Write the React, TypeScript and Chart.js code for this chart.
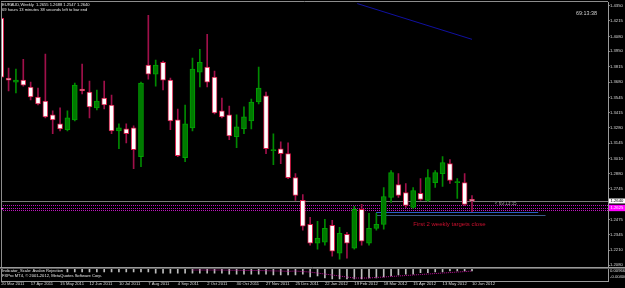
import React, { useEffect, useRef } from 'react';
import { Chart, registerables } from 'chart.js';

Chart.register(...registerables);

// ---------------- DATA ----------------
const dateTickLabels = [
  '20 Mar 2011', '17 Apr 2011', '15 May 2011', '12 Jun 2011', '10 Jul 2011', '7 Aug 2011',
  '4 Sep 2011', '2 Oct 2011', '30 Oct 2011', '27 Nov 2011', '25 Dec 2011', '22 Jan 2012',
  '19 Feb 2012', '18 Mar 2012', '15 Apr 2012', '13 May 2012', '10 Jun 2012',
];

const opens = [
  1.4237, 1.3715, 1.3680, 1.3697, 1.3637, 1.3550, 1.3515, 1.3393, 1.3315, 1.3263,
  1.3350, 1.3619, 1.3593, 1.3454, 1.3541, 1.3480, 1.3254, 1.3271, 1.3280, 1.3028,
  1.3828, 1.3750, 1.3854, 1.3697, 1.3350, 1.3019, 1.3280, 1.3767, 1.3811, 1.3724,
  1.3428, 1.3393, 1.3202, 1.3271, 1.3341, 1.3506, 1.3559, 1.3080, 1.3097, 1.3054,
  1.2845, 1.2645, 1.2436, 1.2271, 1.2279, 1.2427, 1.2184, 1.2349, 1.2227, 1.2566,
  1.2271, 1.2401, 1.2436, 1.2671, 1.2784, 1.2714, 1.2584, 1.2706, 1.2645, 1.2801,
  1.2880, 1.2967, 1.2801, 1.2801, 1.2655,
];
const highs = [
  1.4254, 1.3802, 1.3793, 1.3880, 1.3680, 1.3628, 1.3924, 1.3428, 1.3454, 1.3428,
  1.3671, 1.3837, 1.3689, 1.3611, 1.3689, 1.3567, 1.3315, 1.3315, 1.3297, 1.3680,
  1.4263, 1.3872, 1.3863, 1.3715, 1.3445, 1.3480, 1.3889, 1.3967, 1.4098, 1.3776,
  1.3541, 1.3471, 1.3393, 1.3463, 1.3532, 1.3811, 1.3593, 1.3228, 1.3158, 1.3149,
  1.2880, 1.2697, 1.2497, 1.2462, 1.2480, 1.2471, 1.2410, 1.2366, 1.2593, 1.2610,
  1.2532, 1.2532, 1.2758, 1.2906, 1.2880, 1.2793, 1.2758, 1.2836, 1.2914, 1.2906,
  1.3028, 1.3002, 1.2836, 1.2880, 1.2688,
];
const lows = [
  1.3706, 1.3602, 1.3585, 1.3645, 1.3524, 1.3480, 1.3367, 1.3228, 1.3254, 1.3254,
  1.3341, 1.3576, 1.3367, 1.3436, 1.3445, 1.3228, 1.3097, 1.3149, 1.2923, 1.2941,
  1.3706, 1.3645, 1.3611, 1.3263, 1.3028, 1.2984, 1.3254, 1.3637, 1.3637, 1.3402,
  1.3367, 1.3176, 1.3106, 1.3228, 1.3271, 1.3489, 1.3054, 1.2958, 1.2967, 1.2836,
  1.2645, 1.2384, 1.2253, 1.2218, 1.2253, 1.2158, 1.2132, 1.2140, 1.2218, 1.2253,
  1.2253, 1.2384, 1.2393, 1.2627, 1.2671, 1.2584, 1.2575, 1.2645, 1.2636, 1.2758,
  1.2767, 1.2793, 1.2662, 1.2601, 1.2547,
];
const closes = [
  1.3723, 1.3697, 1.3697, 1.3654, 1.3550, 1.3489, 1.3376, 1.3350, 1.3271, 1.3367,
  1.3654, 1.3602, 1.3463, 1.3515, 1.3480, 1.3254, 1.3280, 1.3228, 1.3089, 1.3671,
  1.3750, 1.3828, 1.3697, 1.3341, 1.3036, 1.3315, 1.3793, 1.3854, 1.3680, 1.3410,
  1.3376, 1.3210, 1.3289, 1.3376, 1.3506, 1.3628, 1.3097, 1.3089, 1.3054, 1.2845,
  1.2688, 1.2419, 1.2271, 1.2314, 1.2401, 1.2201, 1.2358, 1.2271, 1.2566, 1.2288,
  1.2401, 1.2436, 1.2679, 1.2888, 1.2688, 1.2601, 1.2732, 1.2653, 1.2845, 1.2888,
  1.2975, 1.2819, 1.2810, 1.2610, 1.2640,
];

const priceTickLabels = [
  '1.4350', '1.4215', '1.4080', '1.3950', '1.3815', '1.3680', '1.3545', '1.3415', '1.3280',
  '1.3145', '1.3010', '1.2880', '1.2745', '1.2475', '1.2345', '1.2210', '1.2080',
];

// indicator sub-window (histogram hanging from the window top, and a dotted signal line)
const histValues = [
  null, null, null, null, null, null, null, null, null, 0.0074,
  0.0074, 0.0074, 0.0074, 0.0074, 0.0074, 0.0074, 0.0074, 0.0074, 0.0074, 0.0074,
  0.0074, 0.0051, 0.0051, 0.0051, 0.0051, 0.0051, 0.0051, 0.0051, 0.0051, 0.0051,
  0.0051, 0.0028, 0.0028, 0.0028, 0.0028, 0.0028, 0.0028, 0.0006, 0.0006, 0.0006,
  0.0006, 0.0028, -0.0040, -0.0017, -0.0063, -0.0086, -0.0086, -0.0086, -0.0086, -0.0086,
  -0.0063, -0.0063, -0.0040, -0.0017, 0.0006, 0.0028, 0.0028, 0.0062, 0.0062, 0.0074,
  0.0074, 0.0097, 0.0097, 0.0097, 0.0097,
];
const signalValues = [
  null, null, null, null, null, null, null, null, null, null,
  null, null, null, null, null, null, null, null, null, null,
  null, null, null, null, null, null, 0.0120, 0.0120, 0.0120, 0.0120,
  0.0120, 0.0115, 0.0115, 0.0110, 0.0110, 0.0108, 0.0105, 0.0100, 0.0097, 0.0090,
  0.0097, 0.0085, 0.0074, 0.0051, 0.0028, 0.0006, -0.0017, -0.0040, -0.0063, -0.0063,
  -0.0063, -0.0050, -0.0040, -0.0028, -0.0017, -0.0006, 0.0006, 0.0017, 0.0028, 0.0040,
  0.0051, 0.0062, 0.0074, 0.0085, 0.0097,
];
const histBase = 0.0165;
const indicatorAxisLabels = ['0.00966', '-0.00400'];
const indicatorAxisValues = [0.00966, -0.004];

const titleText = 'EURAUD,Weekly  1.2655 1.2688 1.2547 1.2640';
const timerText = '69 hours 13 minutes 38 seconds left to bar end';
const clockText = '69:13:38';
const bidClockText = '< 69:13:35';
const noteText = 'First 2 weekly targets close';
const indicatorName = 'Indicator_Scale: Avalon Rejection';
const copyrightText = 'FXPro MT4, \u00a9 2001-2012, MetaQuotes Software Corp.';

const bidPrice = 1.2640;
const bidLabel = '1.2640';
const pinkPrice = 1.2579;
const pinkLabel = '1.2625';
const magentaLevels = [1.2601, 1.2579, 1.2558];
const targetLevels = [1.2540, 1.2514];
const targetStart = 51;
const targetEnds = [73, 74];
const trendStart = [48.4, 1.4367];
const trendEnd = [64.0, 1.4054];
const noteAt = [56.0, 1.2436];
const bidClockAt = [67.1, 1.2619];

// axis ranges
const X_MIN = -0.03;
const X_MAX = 82.49;
const Y_MAX = 1.43761;
const Y_MIN = 1.19401;
const Y2_MAX = 0.62445;
const Y2_MIN = -0.01311;

const FONT = '"Liberation Sans", Arial, sans-serif';

export default function App() {
  const ref = useRef<HTMLCanvasElement | null>(null);

  useEffect(() => {
    document.body.style.margin = '0';
    document.body.style.background = '#000';
    const canvas = ref.current;
    if (!canvas) return;

    const idx = opens.map((_, i) => i);
    const bull = idx.map((i) => closes[i] >= opens[i]);

    const bodies = idx.map((i) => ({ x: i, y: [opens[i], closes[i]] }));
    const wicks = idx.map((i) => ({ x: i, y: [lows[i], highs[i]] }));
    const hist = idx
      .filter((i) => histValues[i] !== null)
      .map((i) => ({ x: i, y: [histBase, histValues[i] as number] }));
    const signal = idx
      .filter((i) => signalValues[i] !== null)
      .map((i) => ({ x: i, y: signalValues[i] as number }));

    const overlay = {
      id: 'overlay',
      beforeDraw(chart: any) {
        const c = chart.ctx;
        c.save();
        c.fillStyle = '#000000';
        c.fillRect(0, 0, chart.width, chart.height);
        c.restore();
      },
      beforeDatasetsDraw(chart: any) {
        const c = chart.ctx;
        const a = chart.chartArea;
        const sx = (v: number) => chart.scales.x.getPixelForValue(v);
        const sy = (v: number) => chart.scales.y.getPixelForValue(v);
        c.save();
        c.beginPath();
        c.rect(a.left, a.top, a.right - a.left, a.bottom - a.top);
        c.clip();
        // magenta dotted levels
        c.strokeStyle = '#c014c0';
        c.lineWidth = 1;
        c.setLineDash([1, 1]);
        magentaLevels.forEach((p) => {
          const y = Math.round(sy(p)) + 0.5;
          c.beginPath();
          c.moveTo(a.left, y);
          c.lineTo(a.right, y);
          c.stroke();
        });
        c.setLineDash([]);
        // bid line
        c.strokeStyle = '#7a7a7a';
        const by = Math.round(sy(bidPrice)) + 0.5;
        c.beginPath();
        c.moveTo(a.left, by);
        c.lineTo(a.right, by);
        c.stroke();
        // target lines
        const tcol = ['#2a5cc8', '#3a5a84'];
        targetLevels.forEach((p, k) => {
          const y = Math.round(sy(p)) + 0.5;
          c.strokeStyle = tcol[k];
          c.beginPath();
          c.moveTo(sx(targetStart), y);
          c.lineTo(sx(targetEnds[k]), y);
          c.stroke();
        });
        c.strokeStyle = tcol[0];
        c.beginPath();
        c.moveTo(Math.round(sx(targetStart)) + 0.5, sy(targetLevels[0]));
        c.lineTo(Math.round(sx(targetStart)) + 0.5, sy(targetLevels[1]));
        c.stroke();
        // trend line
        c.strokeStyle = '#1010a0';
        c.beginPath();
        c.moveTo(sx(trendStart[0]), sy(trendStart[1]));
        c.lineTo(sx(trendEnd[0]), sy(trendEnd[1]));
        c.stroke();
        c.restore();
      },
      afterDatasetsDraw(chart: any) {
        const c = chart.ctx;
        const sx = (v: number) => chart.scales.x.getPixelForValue(v);
        const sy = (v: number) => chart.scales.y.getPixelForValue(v);
        c.save();
        c.textBaseline = 'middle';
        c.textAlign = 'left';
        c.fillStyle = '#c8102e';
        c.font = `6px ${FONT}`;
        c.fillText(noteText, sx(noteAt[0]), sy(noteAt[1]));
        c.fillStyle = '#9a9a9a';
        c.font = `4.6px ${FONT}`;
        c.fillText(bidClockText, sx(bidClockAt[0]), sy(bidClockAt[1]));
        c.restore();
      },
      afterDraw(chart: any) {
        const c = chart.ctx;
        const a = chart.chartArea;
        const W = chart.width;
        const sy = (v: number) => chart.scales.y.getPixelForValue(v);
        const sy2 = (v: number) => chart.scales.y2.getPixelForValue(v);
        c.save();
        // frame
        c.strokeStyle = '#8c8c8c';
        c.lineWidth = 1;
        c.beginPath();
        c.moveTo(a.left, 1.5);
        c.lineTo(a.right, 1.5);
        c.moveTo(1.5, a.top);
        c.lineTo(1.5, a.bottom);
        c.stroke();
        // window separator
        c.strokeStyle = '#9a9a9a';
        c.beginPath();
        c.moveTo(0, 267.5);
        c.lineTo(W, 267.5);
        c.stroke();
        c.strokeStyle = '#5a5a5a';
        c.beginPath();
        c.moveTo(0, 268.5);
        c.lineTo(W, 268.5);
        c.stroke();

        // texts
        c.textBaseline = 'middle';
        c.textAlign = 'left';
        c.fillStyle = '#e6e6e6';
        c.font = `4.1px ${FONT}`;
        c.fillText(titleText, 2, 5);
        c.fillText(timerText, 2, 9.5);
        c.font = `5.4px ${FONT}`;
        c.fillStyle = '#d0d0d0';
        c.fillText(clockText, 576, 14);
        c.font = `4.1px ${FONT}`;
        c.fillStyle = '#e6e6e6';
        c.fillText(indicatorName, 2, 270.5);
        c.fillText(copyrightText, 2, 275.5);

        // axis boxes
        const x0 = a.right + 1;
        const by = sy(bidPrice);
        c.fillStyle = '#ffffff';
        c.fillRect(x0, by - 2.5, W - x0, 5);
        c.fillStyle = '#000000';
        c.font = `4.2px ${FONT}`;
        c.fillText(bidLabel, x0 + 1.5, by);
        const py = sy(pinkPrice);
        c.fillStyle = '#ff00ff';
        c.fillRect(x0, py - 3.2, W - x0, 6.4);
        c.fillStyle = '#ffffff';
        c.fillText(pinkLabel, x0 + 1.5, py);
        // left small marker
        c.fillStyle = '#ff60ff';
        c.fillRect(1, py, 2, 1.5);

        // indicator axis labels
        c.fillStyle = '#d8d8d8';
        indicatorAxisLabels.forEach((t, k) => {
          c.fillText(t, a.right + 2, sy2(indicatorAxisValues[k]));
        });
        c.restore();
      },
    };

    const chart = new Chart(canvas, {
      type: 'bar',
      data: {
        datasets: [
          {
            type: 'bar',
            label: 'body',
            data: bodies as any,
            yAxisID: 'y',
            backgroundColor: idx.map((i) => (bull[i] ? '#007a00' : '#ffffff')),
            borderColor: idx.map((i) => (bull[i] ? '#00a000' : '#d41a46')),
            borderWidth: 1,
            borderSkipped: false,
            barThickness: 5,
            grouped: false,
            order: 0,
          } as any,
          {
            type: 'bar',
            label: 'wick',
            data: wicks as any,
            yAxisID: 'y',
            backgroundColor: idx.map((i) => (bull[i] ? '#008a00' : '#a0104a')),
            borderWidth: 0,
            barThickness: 1,
            grouped: false,
            order: 1,
          } as any,
          {
            type: 'bar',
            label: 'hist',
            data: hist as any,
            yAxisID: 'y2',
            backgroundColor: '#bdbdbd',
            borderWidth: 0,
            barThickness: 1,
            grouped: false,
            order: 3,
          } as any,
          {
            type: 'line',
            label: 'signal',
            data: signal as any,
            yAxisID: 'y2',
            borderColor: '#c0109a',
            borderWidth: 1,
            borderDash: [1, 1],
            pointRadius: 0,
            tension: 0,
            order: 2,
          } as any,
        ],
      },
      options: {
        responsive: false,
        animation: false,
        devicePixelRatio: 1,
        events: [],
        layout: { padding: { left: 1, top: 1, right: 0, bottom: 0 } },
        plugins: { legend: { display: false }, tooltip: { enabled: false } },
        scales: {
          x: {
            type: 'linear',
            min: X_MIN,
            max: X_MAX,
            offset: false,
            bounds: 'data',
            grid: { display: true, drawOnChartArea: false, drawTicks: false, offset: false, color: '#808080' },
            border: { display: true, color: '#9a9a9a' },
            ticks: {
              autoSkip: false,
              maxRotation: 0,
              minRotation: 0,
              align: 'start',
              padding: 0.5,
              color: '#d8d8d8',
              font: { family: FONT, size: 4.2 },
              callback: (_v: any, i: number) => dateTickLabels[i],
            },
            afterBuildTicks: (s: any) => {
              s.ticks = dateTickLabels.map((_, k) => ({ value: k * 4 }));
            },
            afterFit: (s: any) => {
              s.height = 7;
            },
          } as any,
          y: {
            type: 'linear',
            position: 'right',
            min: Y_MIN,
            max: Y_MAX,
            bounds: 'data',
            grid: { display: true, drawOnChartArea: false, drawTicks: true, tickLength: 2, color: '#808080' },
            border: { display: true, color: '#9a9a9a' },
            ticks: {
              autoSkip: false,
              padding: 0,
              color: '#d8d8d8',
              font: { family: FONT, size: 4.2 },
              callback: (_v: any, i: number) => priceTickLabels[i],
            },
            afterBuildTicks: (s: any) => {
              s.ticks = priceTickLabels.map((t) => ({ value: parseFloat(t) }));
            },
            afterFit: (s: any) => {
              s.width = 17;
            },
          } as any,
          y2: {
            type: 'linear',
            display: false,
            min: Y2_MIN,
            max: Y2_MAX,
          } as any,
        },
      },
      plugins: [overlay],
    });

    return () => chart.destroy();
  }, []);

  return (
    <div style={{ position: 'absolute', left: 0, top: 0, width: 625, height: 288, background: '#000' }}>
      <canvas ref={ref} width={625} height={288} style={{ display: 'block' }} />
    </div>
  );
}
